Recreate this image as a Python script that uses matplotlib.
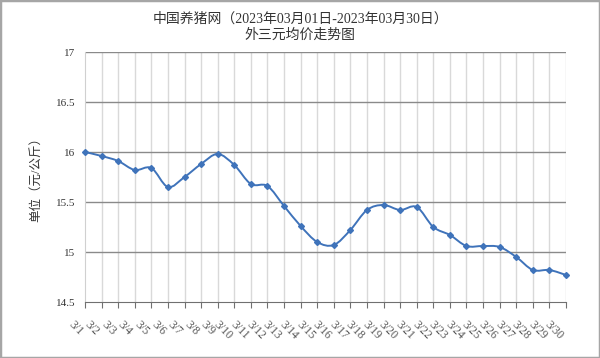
import matplotlib
matplotlib.use("Agg")
import matplotlib.pyplot as plt
import numpy as np
from matplotlib.path import Path
from matplotlib.patches import PathPatch, Rectangle

plt.rcParams['font.family'] = ['Liberation Serif', 'Noto Sans CJK SC', 'DejaVu Sans']

dates = [f"3/{d}" for d in range(1, 31)]
prices = [16.00, 15.96, 15.91, 15.82, 15.84, 15.65, 15.75, 15.88, 15.98, 15.87,
          15.68, 15.66, 15.46, 15.26, 15.10, 15.07, 15.22, 15.42, 15.47, 15.42,
          15.45, 15.25, 15.17, 15.06, 15.06, 15.05, 14.95, 14.82, 14.82, 14.77]
yticks = [14.5, 15, 15.5, 16, 16.5, 17]
ytick_labels = ["14.5", "15", "15.5", "16", "16.5", "17"]
title = "中国养猪网（2023年03月01日-2023年03月30日）\n外三元均价走势图"
ylabel = "单位（元/公斤）"

line_color = '#3F73BA'

fig = plt.figure(figsize=(6, 3.58), dpi=100)
ax = fig.add_axes([85/600, 1 - 302/358, (566-85)/600, (302-52)/358])

x = np.arange(len(prices))
y = np.array(prices, dtype=float)

# smoothed line (Catmull-Rom as cubic Bezier path through the data points)
verts = [(x[0], y[0])]
codes = [Path.MOVETO]
n = len(x)
for i in range(n - 1):
    p0 = np.array([x[max(i-1, 0)], y[max(i-1, 0)]])
    p1 = np.array([x[i], y[i]])
    p2 = np.array([x[i+1], y[i+1]])
    p3 = np.array([x[min(i+2, n-1)], y[min(i+2, n-1)]])
    c1 = p1 + (p2 - p0) / 6
    c2 = p2 - (p3 - p1) / 6
    verts += [tuple(c1), tuple(c2), tuple(p2)]
    codes += [Path.CURVE4] * 3
ax.add_patch(PathPatch(Path(verts, codes), facecolor='none', edgecolor=line_color, lw=1.4, zorder=3, clip_on=False))
ax.plot(x, y, linestyle='none', marker='D', markersize=3.0, color=line_color, zorder=4, clip_on=False)

ax.set_xlim(0, len(prices) - 1)
ax.set_ylim(14.5, 17)
ax.set_yticks(yticks)
ax.set_yticklabels(ytick_labels, fontsize=8, color='#333333')
ax.set_xticks(x)
ax.set_xticklabels(dates, rotation=-45, ha='right', va='top', fontsize=8.5, color='#555555',
                   rotation_mode='default')

for v in x[1:]:
    ax.axvline(v, color='#d9d9d9', lw=1, zorder=1)
for v in yticks[1:]:
    ax.axhline(v, color='#8a8a8a', lw=1, zorder=2)

for s in ['top', 'right']:
    ax.spines[s].set_visible(False)
ax.spines['left'].set_color('#d0d0d0')
ax.spines['bottom'].set_color('#707070')
ax.tick_params(axis='y', length=0, pad=7)
ax.tick_params(axis='x', length=4, color='#707070', pad=8)

ax.set_ylabel(ylabel, fontsize=9, color='#333333')
ax.yaxis.set_label_coords(-0.09, 0.5)

fig.text(0.5, 1 - 27/358, title, ha='center', va='center', fontsize=10, color='#333333', linespacing=1.25)

fig.patches.append(Rectangle((0, 0), 1, 1, transform=fig.transFigure, fill=False,
                             edgecolor='#a6a6a6', lw=2.5, zorder=10))

fig.savefig('out.png', dpi=100)
